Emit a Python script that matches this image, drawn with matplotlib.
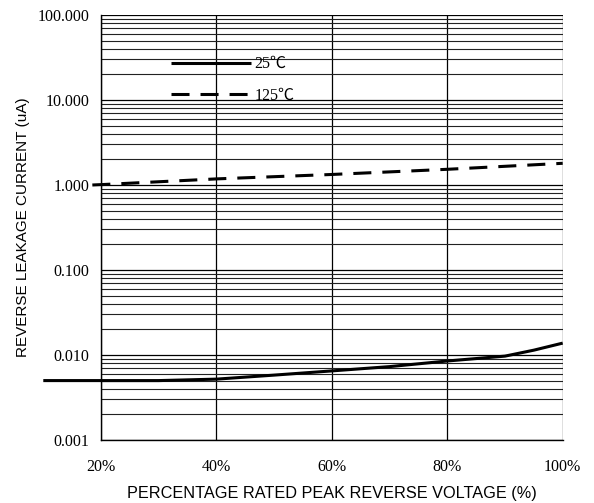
import matplotlib
matplotlib.use("Agg")
import matplotlib.pyplot as plt
from matplotlib.ticker import FixedLocator, LogLocator, NullFormatter

# Data
x_25 = [10, 20, 30, 40, 50, 60, 70, 80, 90, 95, 100]
y_25 = [0.0050, 0.0050, 0.0050, 0.0052, 0.0058, 0.0065, 0.0073, 0.0085, 0.0097, 0.0114, 0.0138]
x_125 = [18.5, 20, 40, 60, 80, 100]
y_125 = [1.00, 1.01, 1.18, 1.33, 1.53, 1.80]
x_ticks = [20, 40, 60, 80, 100]
x_ticklabels = ["20%", "40%", "60%", "80%", "100%"]
y_ticks = [0.001, 0.01, 0.1, 1, 10, 100]
y_ticklabels = ["0.001", "0.010", "0.100", "1.000", "10.000", "100.000"]
labels = ["25\u2103", "125\u2103"]

serif = ["Liberation Serif", "Noto Sans CJK JP", "DejaVu Serif"]
sans = ["Liberation Sans", "DejaVu Sans"]

fig = plt.figure(figsize=(5.94, 5.03), dpi=100)
ax = fig.add_axes([101/594, 63/503, (562.7-101)/594, (440-15)/503])
ax.set_yscale("log")
ax.set_xlim(20, 100)
ax.set_ylim(0.001, 100)

# grid
ax.yaxis.set_major_locator(FixedLocator(y_ticks))
ax.yaxis.set_minor_locator(LogLocator(base=10, subs=range(2, 10)))
ax.yaxis.set_minor_formatter(NullFormatter())
ax.set_yticklabels(y_ticklabels, family=serif, fontsize=11.5)
ax.set_xticks(x_ticks)
ax.set_xticklabels(x_ticklabels, family=serif, fontsize=11.5)
ax.tick_params(which="both", length=0)
ax.tick_params(axis="y", pad=8.6)
ax.tick_params(axis="x", pad=13.5)
ax.grid(which="major", axis="y", color="black", lw=0.9)
ax.grid(which="minor", axis="y", color="#222222", lw=0.8)
ax.grid(which="major", axis="x", color="black", lw=0.9)
for s in ["top", "right"]:
    ax.spines[s].set_visible(False)
for s in ["left", "bottom"]:
    ax.spines[s].set_linewidth(1.0)

l1, = ax.plot(x_25, y_25, color="black", lw=2.2, clip_on=False, label=labels[0], solid_capstyle="butt")
l2, = ax.plot(x_125, y_125, color="black", lw=2.2, clip_on=False, label=labels[1], dashes=(5.9, 3.6))

leg = ax.legend(handles=[l1, l2], loc="upper left", bbox_to_anchor=(0.121, 0.937),
                frameon=False, handlelength=5.0, handletextpad=0.2,
                labelspacing=0.95, prop={"family": serif, "size": 11.5})

ax.set_xlabel("PERCENTAGE RATED PEAK REVERSE VOLTAGE (%)", family=sans, fontsize=11.7, labelpad=8)
ax.set_ylabel("REVERSE LEAKAGE CURRENT (uA)", family=sans, fontsize=11, labelpad=5)

fig.savefig("out.png", dpi=100)
